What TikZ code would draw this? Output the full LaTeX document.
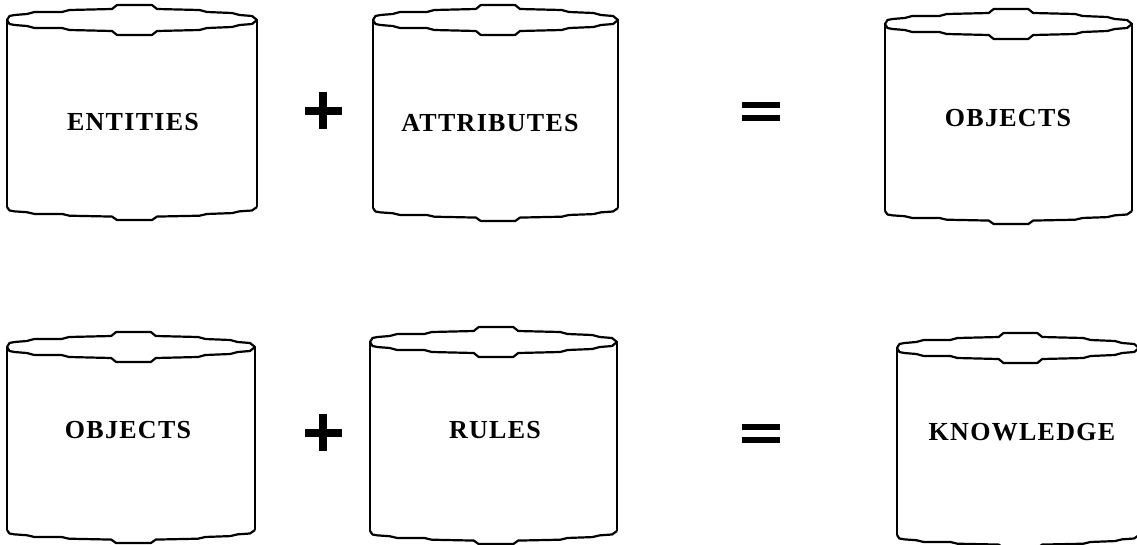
\documentclass[tikz,border=0pt]{standalone}
\usepackage{fontspec}
\setmainfont{Liberation Serif}
\newfontfamily\cylfont{Liberation Serif}[LetterSpace=5]
\tikzset{
  rim/.style={line width=2.2pt, line join=round},
  cylside/.style={line width=2.8pt},
  cyltext/.style={font=\cylfont\fontsize{26}{30}\selectfont\bfseries, inner sep=0pt},
  opbar/.style={line width=7.5pt},
  eqbar/.style={line width=6pt}
}
% #1 x-left, #2 width, #3 y of top rim middle, #4 y where sides end
\newcommand\drawcyl[4]{%
  \begin{scope}[shift={(#1,#3)}, xscale=#2]
    \draw[rim] (0,0) -- (0.01,-4) -- (0.03,-5) -- (0.08,-6) -- (0.11,-8) -- (0.22,-8) -- (0.25,-10)
      -- (0.42,-11) -- (0.44,-15) -- (0.58,-15) -- (0.60,-11) -- (0.77,-10) -- (0.80,-8)
      -- (0.90,-7) -- (0.93,-5) -- (0.98,-4) -- (1,0)
      -- (0.98,4) -- (0.93,5) -- (0.90,7) -- (0.80,8) -- (0.77,10) -- (0.60,11) -- (0.58,15)
      -- (0.44,15) -- (0.42,11) -- (0.25,10) -- (0.22,8) -- (0.11,8) -- (0.08,6) -- (0.03,5)
      -- (0.01,4) -- cycle;
    \draw[cylside] (0,0) -- (0,#4-#3);
    \draw[cylside] (1,0) -- (1,#4-#3);
  \end{scope}
  \begin{scope}[shift={(#1,#4)}, xscale=#2, yscale=0.87]
    \draw[rim] (0,0) -- (0.01,4) -- (0.03,5) -- (0.08,6) -- (0.11,8) -- (0.22,8) -- (0.25,10)
      -- (0.42,11) -- (0.44,15) -- (0.58,15) -- (0.60,11) -- (0.77,10) -- (0.80,8)
      -- (0.90,7) -- (0.93,5) -- (0.98,4) -- (1,0);
  \end{scope}
}
\begin{document}
\begin{tikzpicture}[x=1pt, y=-1pt]
  \useasboundingbox (0,0) rectangle (1137,544);
  \clip (0,0) rectangle (1137,544);
  % row 1
  \drawcyl{7}{250}{20}{207}
  \drawcyl{373}{245}{20}{208}
  \drawcyl{885}{247}{24}{211}
  % row 2
  \drawcyl{7}{248}{347}{530}
  \drawcyl{370}{247}{342}{531}
  \drawcyl{897}{242}{348}{535}
  % texts
  \node[cyltext] (ent) at (133,122) {ENTITIES};
  \node[cyltext] (att) at (490,123) {ATTRIBUTES};
  \node[cyltext] (obj1) at (1008,118) {OBJECTS};
  \node[cyltext] (obj2) at (128,430) {OBJECTS};
  \node[cyltext] (rul) at (495,430) {RULES};
  \node[cyltext] (kno) at (1022,432) {KNOWLEDGE};
  % plus signs
  \draw[opbar] (305,111) -- (342,111);
  \draw[opbar] (323,92) -- (323,129);
  \draw[opbar] (305,433) -- (342,433);
  \draw[opbar] (323,414) -- (323,451);
  % equals signs
  \draw[eqbar] (742,105) -- (780,105);
  \draw[eqbar] (742,118) -- (780,118);
  \draw[eqbar] (742,427) -- (780,427);
  \draw[eqbar] (742,440) -- (780,440);
\end{tikzpicture}
\end{document}
